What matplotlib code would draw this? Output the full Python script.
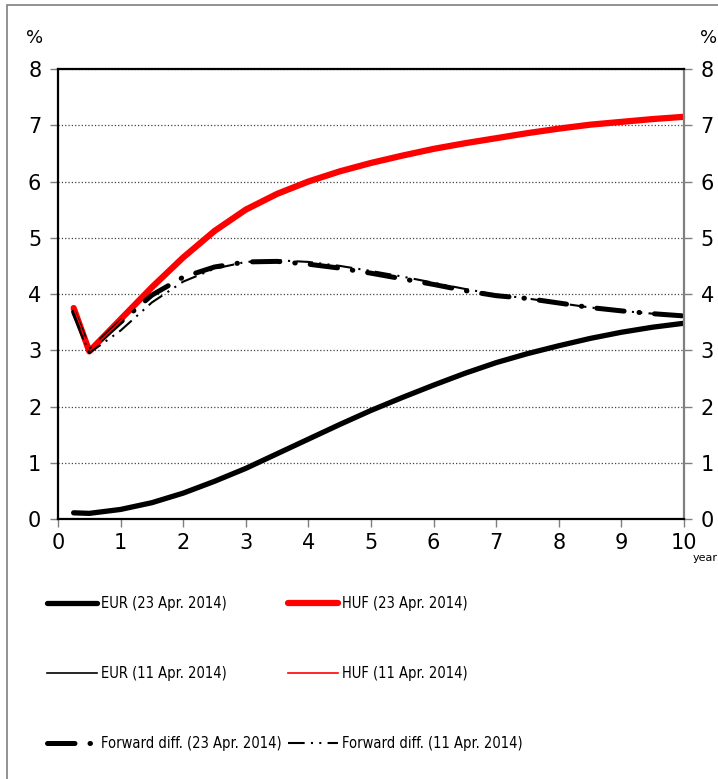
import matplotlib
matplotlib.use("Agg")
import matplotlib.pyplot as plt
from matplotlib.patches import Rectangle
from matplotlib import font_manager

# maturities (years)
years = [0.25, 0.5, 1.0, 1.5, 2.0, 2.5, 3.0, 3.5, 4.0, 4.5, 5.0,
         5.5, 6.0, 6.5, 7.0, 7.5, 8.0, 8.5, 9.0, 9.5, 10.0]

eur_23 = [0.11, 0.10, 0.17, 0.29, 0.46, 0.67, 0.90, 1.16, 1.42, 1.68, 1.93,
          2.16, 2.38, 2.59, 2.78, 2.94, 3.08, 3.21, 3.32, 3.41, 3.48]
eur_11 = [0.11, 0.10, 0.16, 0.28, 0.45, 0.66, 0.89, 1.15, 1.41, 1.67, 1.92,
          2.15, 2.37, 2.58, 2.77, 2.93, 3.07, 3.20, 3.31, 3.40, 3.47]
huf_23 = [3.75, 2.98, 3.55, 4.12, 4.65, 5.12, 5.50, 5.78, 6.00, 6.18, 6.33,
          6.46, 6.58, 6.68, 6.77, 6.86, 6.94, 7.01, 7.06, 7.11, 7.15]
huf_11 = [3.75, 2.98, 3.52, 4.09, 4.62, 5.09, 5.47, 5.76, 5.98, 6.16, 6.31,
          6.44, 6.56, 6.66, 6.75, 6.84, 6.92, 6.99, 7.05, 7.10, 7.14]
fwd_23 = [3.68, 3.00, 3.50, 3.98, 4.30, 4.48, 4.57, 4.58, 4.53, 4.46, 4.37,
          4.27, 4.17, 4.06, 3.97, 3.92, 3.84, 3.76, 3.70, 3.65, 3.61]
fwd_11 = [3.65, 2.95, 3.35, 3.85, 4.22, 4.45, 4.57, 4.60, 4.57, 4.50, 4.41,
          4.31, 4.20, 4.09, 3.99, 3.92, 3.84, 3.76, 3.70, 3.65, 3.62]

x_ticks = [0, 1, 2, 3, 4, 5, 6, 7, 8, 9, 10]
y_ticks = [0, 1, 2, 3, 4, 5, 6, 7, 8]

# pick a narrow font for the legend if one is around
narrow_file = None
for f in font_manager.fontManager.ttflist:
    if 'Narrow' in f.fname and 'Liberation' in f.fname and 'Bold' not in f.fname and 'Italic' not in f.fname:
        narrow_file = f.fname
        break
if narrow_file is None:
    for f in font_manager.fontManager.ttflist:
        if f.fname.endswith('DejaVuSansCondensed.ttf'):
            narrow_file = f.fname
            break
if narrow_file:
    leg_prop = font_manager.FontProperties(fname=narrow_file, size=10.5)
else:
    leg_prop = font_manager.FontProperties(family='DejaVu Sans', size=9.5)

fig = plt.figure(figsize=(7.18, 7.79), dpi=100)
ax = fig.add_axes([58/718, 1-519/779, (684-58)/718, (519-69)/779])

# outer frame of the chart
fig.patches.append(Rectangle((7/718, -0.01), 1.0, 1-5/779+0.01, transform=fig.transFigure,
                             fill=False, edgecolor='#7f7f7f', linewidth=1.2))

# thick lines first, thin lines on top
l1, = ax.plot(years, eur_23, color='black', lw=3.8, solid_capstyle='round',
              label='EUR (23 Apr. 2014)')
l4, = ax.plot(years, huf_23, color='red', lw=4.5, solid_capstyle='round',
              label='HUF (23 Apr. 2014)')
l3, = ax.plot(years, fwd_23, color='black', lw=3.6, dashes=(5.5, 3.0, 0.1, 3.0),
              dash_capstyle='round', label='Forward diff. (23 Apr. 2014)')
l2, = ax.plot(years, eur_11, color='black', lw=1.2, label='EUR (11 Apr. 2014)')
l5, = ax.plot(years, huf_11, color='red', lw=1.2, label='HUF (11 Apr. 2014)')
l6, = ax.plot(years, fwd_11, color='black', lw=1.5, dashes=(8, 3, 1, 3, 1, 3),
              label='Forward diff. (11 Apr. 2014)')

ax.set_xlim(0, 10)
ax.set_ylim(0, 8)
ax.set_xticks(x_ticks)
ax.set_yticks(y_ticks)
ax.grid(axis='y', linestyle=':', color='#444444', linewidth=0.9)
ax.set_axisbelow(True)

for s in ['left', 'bottom', 'top']:
    ax.spines[s].set_linewidth(1.6)
    ax.spines[s].set_color('black')
ax.spines['right'].set_color('#7f7f7f')
ax.spines['right'].set_linewidth(1.6)

ax.tick_params(axis='x', direction='out', length=6, width=1, color='#7f7f7f',
               labelsize=15, pad=4)
ax.tick_params(axis='y', direction='out', length=6, width=1, color='#7f7f7f',
               labelsize=15, pad=6, left=True, right=True, labelright=True)

fig.text(35/718, 1-38/779, '%', fontsize=13, ha='center', va='center')
fig.text(709/718, 1-38/779, '%', fontsize=13, ha='center', va='center')
fig.text(718/718, 1-558/779, 'year', fontsize=8, ha='right', va='center')

fig.legend(handles=[l1, l2, l3, l4, l5, l6], ncol=2, loc='upper left',
           bbox_to_anchor=(40/718, 1-589/779), frameon=False,
           prop=leg_prop, handlelength=3.4,
           handletextpad=0.3, columnspacing=0.45, labelspacing=3.75,
           borderpad=0)

fig.savefig('out.png', dpi=100)
